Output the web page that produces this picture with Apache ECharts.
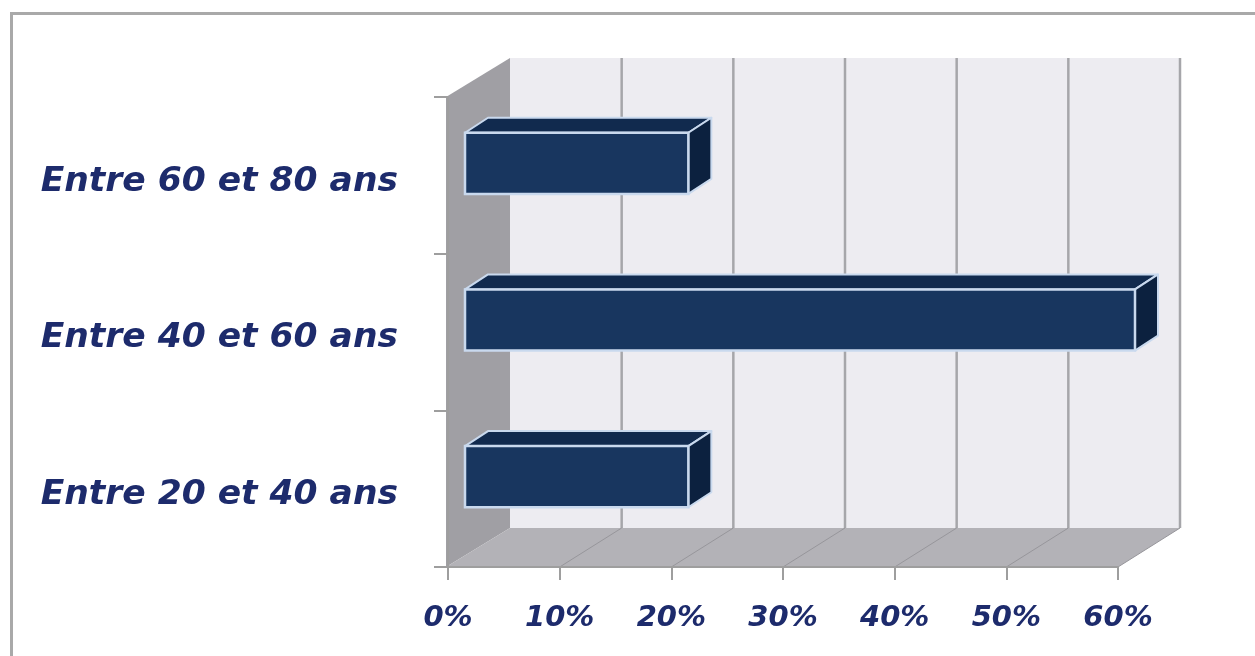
<!DOCTYPE html>
<html>
<head>
<meta charset="utf-8">
<script src="https://cdn.jsdelivr.net/npm/echarts@6/dist/echarts.min.js"></script>
<style>
html,body{margin:0;padding:0;background:#fff;}
#chart{width:1255px;height:656px;}
</style>
</head>
<body>
<div id="chart"></div>
<script>
// ---- data ----
const categories = ['Entre 20 et 40 ans', 'Entre 40 et 60 ans', 'Entre 60 et 80 ans'];
const values = [20, 60, 20];
const xTickValues = [0, 10, 20, 30, 40, 50, 60];
const xTickLabels = ['0%', '10%', '20%', '30%', '40%', '50%', '60%'];

// ---- style constants (3D look) ----
const WALL_DX = 62, WALL_DY = -39;   // depth of the chart box
const BAR_FDX = 17, BAR_FDY = -12;   // bar front face offset into the box
const BAR_DX = 23, BAR_DY = -15;     // bar depth
const BAR_RATIO = 0.39;

const chart = echarts.init(document.getElementById('chart'));

function renderWalls(params, api) {
  const cs = params.coordSys;
  const x0 = cs.x, y0 = cs.y, x1 = cs.x + cs.width, y1 = cs.y + cs.height;
  const children = [];
  children.push({type: 'rect', shape: {x: x0 + WALL_DX, y: y0 + WALL_DY, width: cs.width, height: cs.height},
    style: {fill: '#edecf1', stroke: null}});
  children.push({type: 'polygon', shape: {points: [[x0 - 2, y0], [x0 + WALL_DX, y0 + WALL_DY], [x0 + WALL_DX, y1 + WALL_DY], [x0 - 2, y1]]},
    style: {fill: '#a09fa4'}});
  children.push({type: 'polygon', shape: {points: [[x0 - 2, y1], [x1, y1], [x1 + WALL_DX, y1 + WALL_DY], [x0 + WALL_DX, y1 + WALL_DY]]},
    style: {fill: '#b3b2b7'}});
  xTickValues.forEach(function (v) {
    const px = api.coord([v, 0])[0];
    if (v > 0) {
      children.push({type: 'line', shape: {x1: px + WALL_DX, y1: y0 + WALL_DY, x2: px + WALL_DX, y2: y1 + WALL_DY},
        style: {stroke: '#a6a6aa', lineWidth: 2.5}});
      children.push({type: 'line', shape: {x1: px, y1: y1, x2: px + WALL_DX, y2: y1 + WALL_DY},
        style: {stroke: '#97969b', lineWidth: 1}});
    }
  });
  return {type: 'group', children: children};
}

function renderBar(params, api) {
  const idx = api.value(1);
  const start = api.coord([0, idx]);
  const end = api.coord([api.value(0), idx]);
  const h = api.size([0, 1])[1] * BAR_RATIO;
  const xa = start[0] + BAR_FDX, xb = end[0] + BAR_FDX;
  const ya = start[1] + BAR_FDY - h / 2, yb = start[1] + BAR_FDY + h / 2;
  const edge = '#c9d9ee';
  return {type: 'group', children: [
    {type: 'polygon', shape: {points: [[xa, ya], [xa + BAR_DX, ya + BAR_DY], [xb + BAR_DX, ya + BAR_DY], [xb, ya]]},
      style: {fill: '#112a4e', stroke: edge, lineWidth: 2, lineJoin: 'round'}},
    {type: 'polygon', shape: {points: [[xb, ya], [xb + BAR_DX, ya + BAR_DY], [xb + BAR_DX, yb + BAR_DY], [xb, yb]]},
      style: {fill: '#0c213f', stroke: edge, lineWidth: 2, lineJoin: 'round'}},
    {type: 'rect', shape: {x: xa, y: ya, width: xb - xa, height: yb - ya},
      style: {fill: '#18365f', stroke: edge, lineWidth: 2.5}}
  ]};
}

const labelStyle = {color: '#1d2b6c', fontFamily: 'DejaVu Sans', fontWeight: 'bold', fontStyle: 'italic'};

chart.setOption({
  animation: false,
  backgroundColor: '#ffffff',
  graphic: [{
    type: 'rect', left: 9, top: 11, shape: {width: 1300, height: 700},
    style: {fill: 'none', stroke: '#a9a9a9', lineWidth: 3}, z: -1
  }],
  grid: {left: 448, right: 137, top: 97, bottom: 89},
  xAxis: {
    type: 'value', min: 0, max: 60, interval: 10, z: 5,
    axisLine: {show: true, lineStyle: {color: '#9e9e9e', width: 2}},
    axisTick: {show: true, length: 13, lineStyle: {color: '#9e9e9e', width: 2}},
    splitLine: {show: false},
    axisLabel: Object.assign({
      fontSize: 29, margin: 37,
      formatter: function (v) { return xTickLabels[xTickValues.indexOf(v)]; }
    }, labelStyle)
  },
  yAxis: {
    type: 'category', data: categories, z: 5,
    axisLine: {show: true, lineStyle: {color: '#9e9e9e', width: 2}},
    axisTick: {show: true, length: 14, lineStyle: {color: '#9e9e9e', width: 2}},
    splitLine: {show: false},
    axisLabel: Object.assign({fontSize: 34.5, margin: 50, verticalAlign: 'top', lineHeight: 13}, labelStyle)
  },
  series: [
    {type: 'custom', name: 'walls', renderItem: renderWalls, data: [[0, 0]], z: 1, silent: true,
      encode: {x: 0, y: 1}},
    {type: 'custom', name: 'bars', renderItem: renderBar, z: 3,
      data: values.map(function (v, i) { return [v, i]; }), encode: {x: 0, y: 1}}
  ]
});
</script>
</body>
</html>
